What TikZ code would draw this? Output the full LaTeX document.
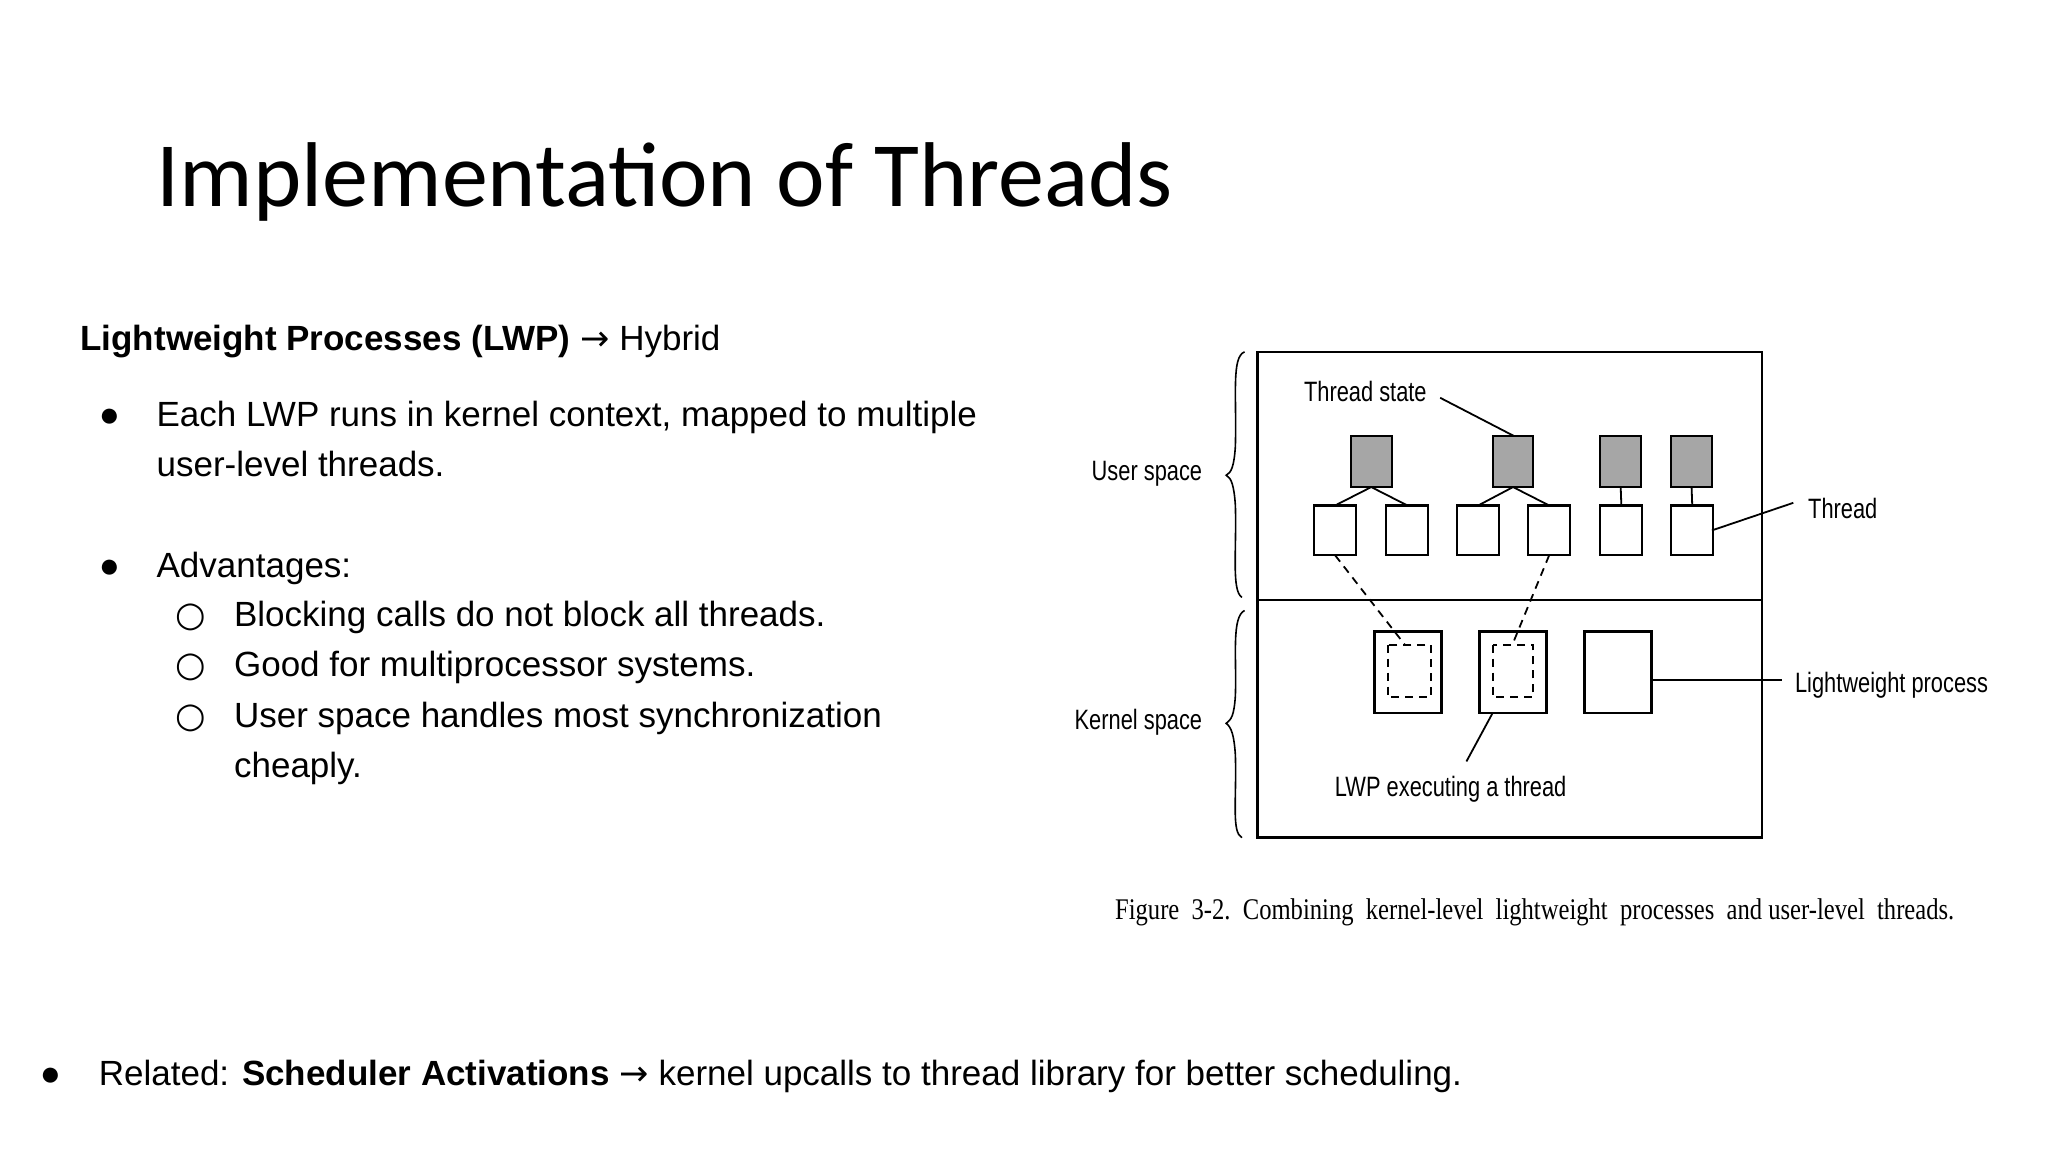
\documentclass[tikz,border=0pt]{standalone}
\usepackage{fontspec}
\setmainfont{Liberation Sans}
\newfontfamily\titlefont{Carlito}
\newfontfamily\narrowfont[FakeStretch=0.78]{Liberation Sans}
\newfontfamily\capfont[FakeStretch=0.82]{Liberation Serif}
\newfontfamily\symfont{DejaVu Sans}
\begin{document}
\begin{tikzpicture}[x=0.6564pt,y=-0.6564pt,
  txt/.style={anchor=base west,inner sep=0,font=\fontsize{17.5}{21}\selectfont},
  lbl/.style={inner sep=0,font=\narrowfont\fontsize{14}{16}\selectfont},
  bx/.style={draw,line width=1.1pt},
  sh/.style={draw,line width=1.1pt,fill=black!35},
  ln/.style={line width=0.9pt},
  dl/.style={line width=0.9pt,dash pattern=on 4pt off 3pt}]
\useasboundingbox[fill=white] (0,0) rectangle (1560,878);
\node[txt,font=\titlefont\fontsize{46}{50}\selectfont] (title) at (119,157) {Implementation of Threads};
\node[txt] (h) at (61,267) {\textbf{Lightweight Processes (LWP)} {\symfont→} Hybrid};
\node[txt] (b1a) at (75,325) {●};
\node[txt] (b1) at (119,325) {Each LWP runs in kernel context, mapped to multiple};
\node[txt] (b1b) at (119,363) {user-level threads.};
\node[txt] (b2a) at (75,440) {●};
\node[txt] (b2) at (119,440) {Advantages:};
\foreach \yy/\t [count=\i] in {477/Blocking calls do not block all threads.,515/Good for multiprocessor systems.,554/User space handles most synchronization}{
  \node[txt] (c\i) at (133,\yy) {\symfont○};
  \node[txt] (s\i) at (178,\yy) {\t};}
\node[txt] (s4) at (178,592) {cheaply.};
\node[txt] (b3a) at (30,827) {●};
\node[txt] (b3) at (75,827) {Related: \textbf{Scheduler Activations} {\symfont→} kernel upcalls to thread library for better scheduling.};
% figure
\draw[line width=1.3pt] (958,268) rectangle (1342,638);
\draw[line width=1.3pt] (958,457) -- (1342,457);
\draw[line width=0.8pt] (948,268) .. controls (938,272) and (942,300) .. (941,340) .. controls (940,355) and (938,360) .. (934,362) .. controls (938,364) and (940,370) .. (941,385) .. controls (942,420) and (938,450) .. (946,455);
\draw[line width=0.8pt] (948,465) .. controls (938,470) and (942,500) .. (941,530) .. controls (940,545) and (938,548) .. (934,551) .. controls (938,554) and (940,560) .. (941,575) .. controls (942,610) and (938,634) .. (946,638);
\node[lbl,anchor=east] (us) at (916,361) {User space};
\node[lbl,anchor=east] (ks) at (916,550) {Kernel space};
\foreach \xx [count=\i] in {1029,1137,1219,1273}{
  \path[sh] (\xx,332) rectangle +(31,39);
  \coordinate (ts\i) at (\xx+15.5,371);}
\foreach \xx [count=\i] in {1001,1056,1110,1164,1219,1273}{
  \path[bx] (\xx,385) rectangle +(32,38);
  \coordinate (t\i) at (\xx+16,385);
  \coordinate (tb\i) at (\xx+16,423);}
\draw[ln] (ts1)--(t1) (ts1)--(t2) (ts2)--(t3) (ts2)--(t4) (ts3)--(t5) (ts4)--(t6);
\foreach \xx [count=\i] in {1047,1127,1207}{\path[bx] (\xx,481) rectangle +(51,62);}
\draw[dl] (1057,491) rectangle (1090,531);
\draw[dl] (1137,491) rectangle (1168,531);
\draw[dl] (tb1) -- (1070,491);
\draw[dl] (tb4) -- (1152,491);
\node[lbl,anchor=center] (tsl) at (1040,298) {Thread state};
\draw[ln] (1097,303) -- (1153,332);
\node[lbl,anchor=west] (thl) at (1377,387) {Thread};
\draw[ln] (1304,404) -- (1366,383);
\node[lbl,anchor=west] (lpl) at (1367,522) {Lightweight process};
\draw[ln] (1257,518) -- (1357,518);
\node[lbl,anchor=center] (lel) at (1105,601) {LWP executing a thread};
\draw[ln] (1137,543) -- (1117,580);
\node[inner sep=0,font=\capfont\fontsize{15}{17}\selectfont] (cap) at (1169,695) {Figure\ \ 3-2.\ \ Combining\ \ kernel-level\ \ lightweight\ \ processes\ \ and user-level\ \ threads.};
\end{tikzpicture}
\end{document}
